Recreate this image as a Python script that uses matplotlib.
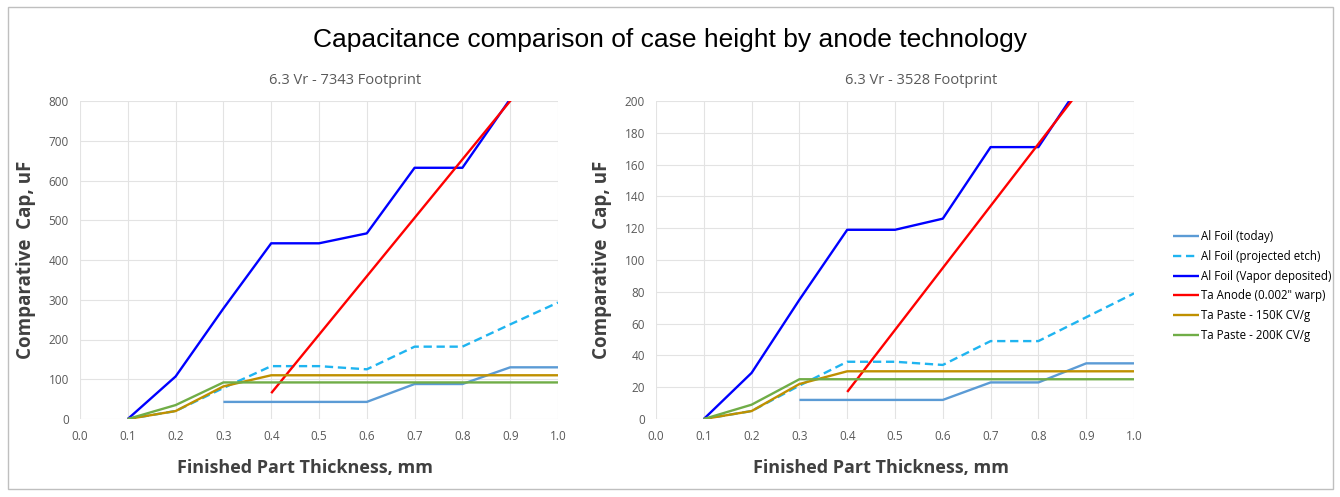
import numpy as np
import matplotlib.pyplot as plt
from matplotlib.patches import Rectangle

# ---------------------------------------------------------------- data
thickness = [0.1, 0.2, 0.3, 0.4, 0.5, 0.6, 0.7, 0.8, 0.9, 1.0]
labels = [
    "Al Foil (today)",
    "Al Foil (projected etch)",
    "Al Foil (Vapor deposited)",
    'Ta Anode (0.002" warp)',
    "Ta Paste - 150K CV/g",
    "Ta Paste - 200K CV/g",
]

# 7343 footprint (None = no point)
foil_today_7343 = [None, None, 43, 43, 43, 43, 88, 88, 130, 130]
foil_etch_7343 = [0, 20, 78, 133, 133, 125, 182, 182, 238, 293]
foil_vapor_7343 = [0, 107, 278, 442, 442, 467, 632, 632, 805, 970]
ta_anode_7343 = [None, None, None, 65, 212, 359, 506, 653, 800, 947]
paste150_7343 = [0, 20, 82, 110, 110, 110, 110, 110, 110, 110]
paste200_7343 = [0, 35, 92, 92, 92, 92, 92, 92, 92, 92]

# 3528 footprint
foil_today_3528 = [None, None, 12, 12, 12, 12, 23, 23, 35, 35]
foil_etch_3528 = [0, 5, 21, 36, 36, 34, 49, 49, 64, 79]
foil_vapor_3528 = [0, 29, 75, 119, 119, 126, 171, 171, 216, 260]
ta_anode_3528 = [None, None, None, 17, 56, 95, 134, 173, 212, 251]
paste150_3528 = [0, 5, 22, 30, 30, 30, 30, 30, 30, 30]
paste200_3528 = [0, 9, 25, 25, 25, 25, 25, 25, 25, 25]

colors = ["#5B9BD5", "#1FB4F0", "#0000FF", "#FF0000", "#BF9000", "#70AD47"]
styles = ["-", (0, (3.5, 2)), "-", "-", "-", "-"]

panels = [
    ("6.3 Vr - 7343 Footprint", 800, 100,
     [foil_today_7343, foil_etch_7343, foil_vapor_7343, ta_anode_7343, paste150_7343, paste200_7343]),
    ("6.3 Vr - 3528 Footprint", 200, 20,
     [foil_today_3528, foil_etch_3528, foil_vapor_3528, ta_anode_3528, paste150_3528, paste200_3528]),
]

# ---------------------------------------------------------------- plot
fig = plt.figure(figsize=(13.4, 4.97), dpi=100)
W, H = 1340, 497
fig.add_artist(Rectangle((8 / W, 8 / H), 1325 / W, 482 / H, transform=fig.transFigure,
                         fill=False, edgecolor="#BFBFBF", lw=1))
fig.text(0.5, 1 - 40 / H, "Capacitance comparison of case height by anode technology",
         ha="center", va="center", fontsize=19, family="Liberation Sans", color="black")

lefts = [80, 656]
gray = "#595959"
for (title, ymax, ystep, series), left in zip(panels, lefts):
    ax = fig.add_axes([left / W, 1 - 419 / H, 478 / W, 318 / H])
    for vals, c, ls, lab in zip(series, colors, styles, labels):
        y = np.array([np.nan if v is None else v for v in vals], dtype=float)
        ax.plot(thickness, y, color=c, ls=ls, lw=1.7, label=lab, solid_capstyle="butt")
    ax.set_xlim(0, 1.0)
    ax.set_ylim(0, ymax)
    ax.set_xticks(np.arange(0, 1.01, 0.1))
    ax.set_xticklabels([f"{v:.1f}" for v in np.arange(0, 1.01, 0.1)])
    ax.set_yticks(np.arange(0, ymax + 1, ystep))
    ax.grid(True, color="#E3E3E3", lw=0.8)
    ax.set_axisbelow(True)
    for s in ax.spines.values():
        s.set_visible(False)
    ax.tick_params(length=0, labelsize=8.5, labelcolor=gray, pad=8)
    for t in ax.get_xticklabels() + ax.get_yticklabels():
        t.set_family("Open Sans")
    ax.set_title(title, fontsize=10.5, color=gray, family="Open Sans", pad=12, x=0.555)
    ax.set_ylabel("Comparative  Cap, uF", fontsize=13.5, fontweight="bold", color="#404040",
                  family="Open Sans", labelpad=9)
    ax.set_xlabel("Finished Part Thickness, mm", fontsize=13, fontweight="bold",
                  color="#404040", family="Open Sans")
    ax.xaxis.set_label_coords(0.47, -0.125)

handles, labs = ax.get_legend_handles_labels()
fig.legend(handles, labs, loc="center left", bbox_to_anchor=(1163 / W, 1 - 286 / H),
           frameon=False, handlelength=2.2, handletextpad=0.2,
           labelspacing=0.6, prop={"family": "Open Sans", "size": 8.3})

fig.savefig("out.png", dpi=100)
